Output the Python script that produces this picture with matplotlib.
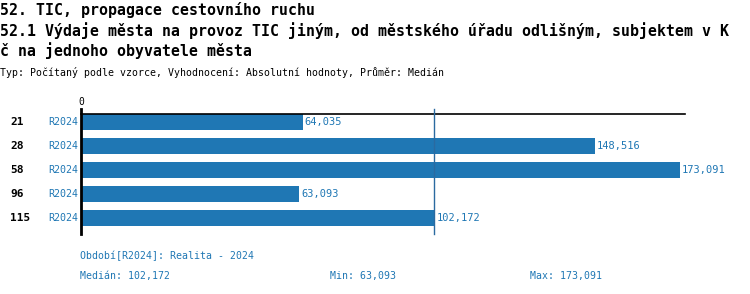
import matplotlib
matplotlib.use("Agg")
import matplotlib.pyplot as plt

plt.rcParams['font.family'] = ['DejaVu Sans Mono']

ids = ["21", "28", "58", "96", "115"]
periods = ["R2024", "R2024", "R2024", "R2024", "R2024"]
values = [64035, 148516, 173091, 63093, 102172]
median_val = 102172
min_val = 63093
max_val = 173091

title1 = "52. TIC, propagace cestovního ruchu"
title2 = "52.1 Výdaje města na provoz TIC jiným, od městského úřadu odlišným, subjektem v K"
title3 = "č na jednoho obyvatele města"
subtitle = "Typ: Počítaný podle vzorce, Vyhodnocení: Absolutní hodnoty, Průměr: Medián"
period_note = "Období[R2024]: Realita - 2024"

blue = "#1f77b4"
W, H = 750, 294

def fx(px):
    return px / W

def fy(py):
    return 1 - py / H

def fmt(v):
    return f"{v:,}"

fig = plt.figure(figsize=(7.5, 2.94), dpi=100)
ax = fig.add_axes([fx(81), fy(234), fx(685 - 81), (234 - 114) / H])

ypos = list(range(len(values)))
ax.barh(ypos, values, height=0.667, color=blue, zorder=2)
ax.set_xlim(0, 174600)
ax.set_ylim(4.667, -0.333)
for s in ["right", "bottom", "left"]:
    ax.spines[s].set_visible(False)
ax.spines["top"].set_linewidth(1.2)
ax.set_xticks([])
ax.set_yticks([])

# left axis line, a bit above the top line
ax.plot([0, 0], [4.667, -0.55], color="black", lw=2, clip_on=False, zorder=3)
ax.text(0, -0.62, "0", ha="center", va="bottom", fontsize=7, color="black")

# median line
ax.plot([median_val, median_val], [4.667, -0.55], color="#2a6aa0", lw=1,
        clip_on=False, zorder=3)

for i, v in enumerate(values):
    ax.text(v + 600, i, fmt(v), ha="left", va="center", fontsize=7.5, color=blue)
    fig.text(fx(10), fy(122 + 24 * i), ids[i], ha="left", va="center",
             fontsize=8, fontweight="bold", color="black")
    fig.text(fx(78), fy(122 + 24 * i), periods[i], ha="right", va="center",
             fontsize=7.2, color=blue)

fig.text(0, fy(10), title1, ha="left", va="center", fontsize=10.7,
         fontweight="bold", color="black")
fig.text(0, fy(31), title2, ha="left", va="center", fontsize=10.7,
         fontweight="bold", color="black")
fig.text(0, fy(51), title3, ha="left", va="center", fontsize=10.7,
         fontweight="bold", color="black")
fig.text(0, fy(73), subtitle, ha="left", va="center", fontsize=7.1, color="black")

fig.text(fx(80), fy(256), period_note, ha="left", va="center", fontsize=7.1, color=blue)
fig.text(fx(80), fy(276), "Medián: " + fmt(median_val), ha="left", va="center",
         fontsize=7.1, color=blue)
fig.text(fx(330), fy(276), "Min: " + fmt(min_val), ha="left", va="center",
         fontsize=7.1, color=blue)
fig.text(fx(530), fy(276), "Max: " + fmt(max_val), ha="left", va="center",
         fontsize=7.1, color=blue)

fig.savefig("out.png", dpi=100)
